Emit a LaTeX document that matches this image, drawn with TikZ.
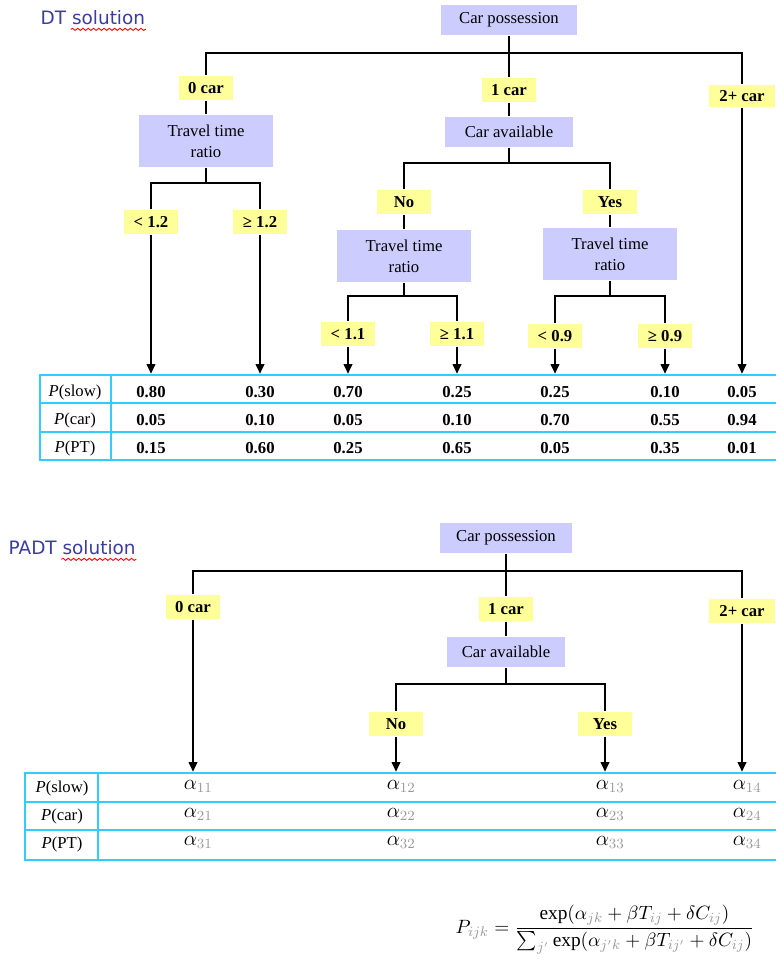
\documentclass[tikz,border=0pt]{standalone}
\usepackage{amsmath}
\usepackage{fontspec}
\setmainfont{Liberation Serif}
\setsansfont{DejaVu Sans}
\usetikzlibrary{arrows.meta,positioning,decorations.pathmorphing}

\definecolor{boxlav}{HTML}{CCCCFF}
\definecolor{labyel}{HTML}{FFFF99}
\definecolor{tabcyan}{HTML}{33CCFF}
\definecolor{titleblue}{HTML}{3C3CA0}
\definecolor{subgray}{HTML}{999999}
\newcommand{\gsub}[1]{{\color{subgray}#1}}

\tikzset{
  question/.style={fill=boxlav, align=center, inner sep=0pt, font=\fontsize{9.5}{12}\selectfont},
  answer/.style={fill=labyel, inner sep=0pt, minimum width=1.08cm, minimum height=0.48cm,
                 font=\fontsize{9.5}{11}\selectfont\bfseries},
  cell/.style={font=\fontsize{9.5}{11}\selectfont\bfseries},
  rowlab/.style={font=\fontsize{9.5}{11}\selectfont},
  alphacell/.style={font=\fontsize{11.5}{13}\selectfont},
  tab/.style={draw=tabcyan, line width=1.5pt, inner sep=0pt},
  tabline/.style={tabcyan, line width=1.5pt},
  title/.style={font=\sffamily\fontsize{10.5}{12}\selectfont, text=titleblue, inner sep=0pt},
  squig/.style={red, line width=0.5pt, decorate, decoration={snake, amplitude=0.6pt, segment length=3pt}},
}

\begin{document}
\begin{tikzpicture}[x=0.02cm, y=-0.02cm, >={Triangle[length=5.5pt,width=5pt]}, thick]
  \useasboundingbox (0,0) rectangle (775,967);

  % DT solution
  \node[title, anchor=west] (dtt) at (40,18) {DT solution};
  \draw[squig] ([xshift=-1.5cm,yshift=-2pt]dtt.south east) -- ([yshift=-2pt]dtt.south east);

  \node[question, minimum width=2.74cm, minimum height=0.62cm] (cp)   at (509,20)  {Car possession};
  \node[answer]                                               (c0)   at (206,88)  {0 car};
  \node[answer]                                               (c1)   at (509,90)  {1 car};
  \node[answer, minimum width=1.32cm, minimum height=0.44cm]  (c2)   at (742,96)  {2+ car};
  \node[question, minimum width=2.7cm, minimum height=1.04cm] (ttr0) at (206,141) {Travel time\\ratio};
  \node[question, minimum width=2.56cm, minimum height=0.6cm] (ca)   at (509,132) {Car available};
  \node[answer]                                               (no)   at (404,202) {No};
  \node[answer]                                               (yes)  at (610,202) {Yes};
  \node[question, minimum width=2.7cm, minimum height=1.04cm] (ttrn) at (404,256) {Travel time\\ratio};
  \node[question, minimum width=2.7cm, minimum height=1.04cm] (ttry) at (610,254) {Travel time\\ratio};
  \node[answer] (lt12) at (151,222) {< 1.2};
  \node[answer] (ge12) at (260,222) {≥ 1.2};
  \node[answer] (lt11) at (348,334) {< 1.1};
  \node[answer] (ge11) at (457,334) {≥ 1.1};
  \node[answer] (lt09) at (555,336) {< 0.9};
  \node[answer] (ge09) at (665,336) {≥ 0.9};

  \coordinate (barA)   at (509,53);
  \coordinate (splitA) at (206,183);
  \coordinate (splitC) at (509,163);
  \coordinate (splitN) at (404,296);
  \coordinate (splitY) at (610,296);

  \draw (cp) -- (c1);
  \draw (c0.north) |- (barA) -| (c2.north);
  \draw (c0) -- (ttr0);
  \draw (ttr0) -- (splitA);
  \draw (lt12.north) |- (splitA) -| (ge12.north);
  \draw (c1) -- (ca);
  \draw (ca) -- (splitC);
  \draw (no.north) |- (splitC) -| (yes.north);
  \draw (no) -- (ttrn);
  \draw (yes) -- (ttry);
  \draw (ttrn) -- (splitN);
  \draw (lt11.north) |- (splitN) -| (ge11.north);
  \draw (ttry) -- (splitY);
  \draw (lt09.north) |- (splitY) -| (ge09.north);

  \node[tab, minimum width=15cm, minimum height=1.7cm] (tabA) at (415,417.5) {};
  \draw[tabline] (tabA.west |- 0,403) -- (tabA.east |- 0,403);
  \draw[tabline] (tabA.west |- 0,432) -- (tabA.east |- 0,432);
  \draw[tabline] (tabA.north -| 111,0) -- (tabA.south -| 111,0);

  \foreach \leaf in {lt12,ge12,lt11,ge11,lt09,ge09,c2}
    \draw[->] (\leaf) -- (\leaf |- tabA.north);

  \node[rowlab] (rA1) at (75,392) {\textit{P}(slow)};
  \node[rowlab] (rA2) at (75,420) {\textit{P}(car)};
  \node[rowlab] (rA3) at (75,448) {\textit{P}(PT)};
  \foreach \leaf/\ps/\pc/\pt in {lt12/0.80/0.05/0.15, ge12/0.30/0.10/0.60,
      lt11/0.70/0.05/0.25, ge11/0.25/0.10/0.65, lt09/0.25/0.70/0.05,
      ge09/0.10/0.55/0.35, c2/0.05/0.94/0.01}{
    \node[cell] (vA-\leaf-1) at (\leaf |- rA1) {\ps};
    \node[cell] (vA-\leaf-2) at (\leaf |- rA2) {\pc};
    \node[cell] (vA-\leaf-3) at (\leaf |- rA3) {\pt};
  }

  % PADT solution
  \node[title, anchor=west] (padtt) at (8,548) {PADT solution};
  \draw[squig] ([xshift=-1.5cm,yshift=-2pt]padtt.south east) -- ([yshift=-2pt]padtt.south east);

  \node[question, minimum width=2.66cm, minimum height=0.6cm] (cpB) at (506,538) {Car possession};
  \node[answer]                                              (c0B) at (193,607) {0 car};
  \node[answer]                                              (c1B) at (506,609) {1 car};
  \node[answer, minimum width=1.32cm]                        (c2B) at (742,611) {2+ car};
  \node[question, minimum width=2.36cm, minimum height=0.6cm] (caB) at (506,652) {Car available};
  \node[answer]                                              (noB)  at (396,724) {No};
  \node[answer]                                              (yesB) at (605,724) {Yes};

  \coordinate (barB)   at (506,571);
  \coordinate (splitB) at (506,684);

  \draw (cpB) -- (c1B);
  \draw (c0B.north) |- (barB) -| (c2B.north);
  \draw (c1B) -- (caB);
  \draw (caB) -- (splitB);
  \draw (noB.north) |- (splitB) -| (yesB.north);

  \node[tab, minimum width=15.3cm, minimum height=1.74cm] (tabB) at (407.5,816.5) {};
  \draw[tabline] (tabB.west |- 0,802) -- (tabB.east |- 0,802);
  \draw[tabline] (tabB.west |- 0,830) -- (tabB.east |- 0,830);
  \draw[tabline] (tabB.north -| 98,0) -- (tabB.south -| 98,0);

  \foreach \leaf in {c0B,noB,yesB,c2B}
    \draw[->] (\leaf) -- (\leaf |- tabB.north);

  \node[rowlab] (rB1) at (62,788) {\textit{P}(slow)};
  \node[rowlab] (rB2) at (62,816) {\textit{P}(car)};
  \node[rowlab] (rB3) at (62,844) {\textit{P}(PT)};
  \foreach \leaf/\k in {c0B/1,noB/2,yesB/3,c2B/4}{
    \node[alphacell] (aB-\k-1) at ([xshift=3pt,yshift=1pt]\leaf |- rB1) {$\alpha_{\gsub{1\k}}$};
    \node[alphacell] (aB-\k-2) at ([xshift=3pt,yshift=1pt]\leaf |- rB2) {$\alpha_{\gsub{2\k}}$};
    \node[alphacell] (aB-\k-3) at ([xshift=3pt,yshift=1pt]\leaf |- rB3) {$\alpha_{\gsub{3\k}}$};
  }

  \node[font=\fontsize{11}{13}\selectfont] (logit) at (605,930)
    {$P_{\gsub{ijk}} = \dfrac{\exp(\alpha_{\gsub{jk}} + \beta T_{\gsub{ij}} + \delta C_{\gsub{ij}})}
      {\sum_{\gsub{j'}}\exp(\alpha_{\gsub{j'k}} + \beta T_{\gsub{ij'}} + \delta C_{\gsub{ij}})}$};
\end{tikzpicture}
\end{document}
